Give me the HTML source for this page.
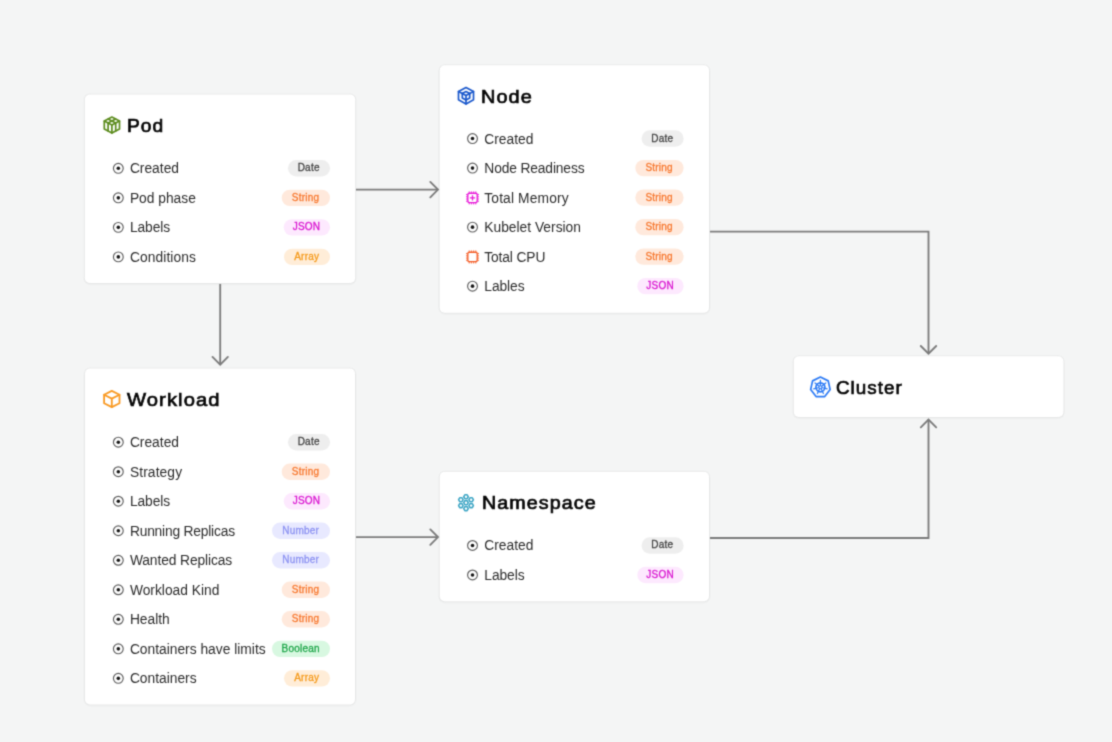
<!DOCTYPE html>
<html lang="en"><head><meta charset="utf-8"><title>Kubernetes data model</title>
<style>
html,body{margin:0;padding:0}
body{width:1112px;height:742px;background:#f4f5f5;position:relative;overflow:hidden;filter:url(#soft);font-family:"Liberation Sans",sans-serif;}
.card{position:absolute;box-sizing:border-box}
.title{position:absolute;z-index:2;margin:0;font-weight:normal;font-size:18.6px;line-height:24px;height:24px;color:#050505;-webkit-text-stroke:0.68px #050505;white-space:nowrap;transform-origin:0 50%}
.lbl{position:absolute;z-index:2;font-size:13.8px;line-height:18px;height:18px;color:#2c2c2c;white-space:nowrap}
.bdg{position:absolute;z-index:2;height:16px;font-size:10px;letter-spacing:0.22px;line-height:16px;text-align:center;white-space:nowrap;-webkit-text-stroke:0.3px currentColor}
svg.layer{position:absolute;left:0;top:0}
svg.icons{z-index:1}
</style></head><body>
<svg width="0" height="0" style="position:absolute" aria-hidden="true"><defs><filter id="soft" filterUnits="userSpaceOnUse" x="0" y="0" width="1112" height="742" color-interpolation-filters="sRGB"><feConvolveMatrix order="3" kernelMatrix="0.0289 0.1122 0.0289 0.1122 0.4356 0.1122 0.0289 0.1122 0.0289" edgeMode="duplicate" preserveAlpha="false"/></filter></defs></svg>

<svg class="layer wires" width="1112" height="742" viewBox="0 0 1112 742" fill="none" stroke="#7b7b7b" stroke-width="1.85" stroke-linecap="butt" stroke-linejoin="miter">
<path d="M356 189.6H437.99"/><path d="M430.29 197.3L437.99 189.6L430.29 181.9" stroke-linecap="round"/>
<path d="M220.2 284V364.59"/><path d="M212.5 356.89L220.2 364.59L227.9 356.89" stroke-linecap="round"/>
<path d="M356 537.1H437.99"/><path d="M430.29 544.8L437.99 537.1L430.29 529.4" stroke-linecap="round"/>
<path d="M710 231.6H928.5V353.69"/><path d="M920.8 345.99L928.5 353.69L936.2 345.99" stroke-linecap="round"/>
<path d="M710 537.95H928.5V419.61"/><path d="M936.2 427.31L928.5 419.61L920.8 427.31" stroke-linecap="round"/>
<rect x="83.35" y="93.65" width="273.35" height="191.75" rx="7" fill="#000" fill-opacity=".018" stroke="none"/>
<rect x="83.85" y="93.45" width="272.35" height="190.55" rx="6" fill="#000" fill-opacity=".038" stroke="none"/>
<rect x="84.85" y="94.45" width="270.35" height="188.55" rx="5" fill="#fff" stroke="none"/>
<rect x="438.2" y="64.4" width="272.3" height="250.7" rx="7" fill="#000" fill-opacity=".018" stroke="none"/>
<rect x="438.7" y="64.2" width="271.3" height="249.5" rx="6" fill="#000" fill-opacity=".038" stroke="none"/>
<rect x="439.7" y="65.2" width="269.3" height="247.5" rx="5" fill="#fff" stroke="none"/>
<rect x="83.55" y="367.8" width="272.95" height="339" rx="7" fill="#000" fill-opacity=".018" stroke="none"/>
<rect x="84.05" y="367.6" width="271.95" height="337.8" rx="6" fill="#000" fill-opacity=".038" stroke="none"/>
<rect x="85.05" y="368.6" width="269.95" height="335.8" rx="5" fill="#fff" stroke="none"/>
<rect x="438.25" y="471" width="272.25" height="132.7" rx="7" fill="#000" fill-opacity=".018" stroke="none"/>
<rect x="438.75" y="470.8" width="271.25" height="131.5" rx="6" fill="#000" fill-opacity=".038" stroke="none"/>
<rect x="439.75" y="471.8" width="269.25" height="129.5" rx="5" fill="#fff" stroke="none"/>
<rect x="792.3" y="355.4" width="272.6" height="63.9" rx="7" fill="#000" fill-opacity=".018" stroke="none"/>
<rect x="792.8" y="355.2" width="271.6" height="62.7" rx="6" fill="#000" fill-opacity=".038" stroke="none"/>
<rect x="793.8" y="356.2" width="269.6" height="60.7" rx="5" fill="#fff" stroke="none"/>
</svg>
<section class="card" style="left:85px;top:95px;width:270px;height:188px">
<h2 class="title" style="left:42.2px;top:19.2px;letter-spacing:1.0px;transform:scaleX(1.033)">Pod</h2>
<span class="lbl" style="left:44.9px;top:65.32px">Created</span>
<span class="bdg" style="left:202.7px;top:65.32px;width:42px;color:#454545">Date</span>
<span class="lbl" style="left:44.9px;top:94.84px">Pod phase</span>
<span class="bdg" style="left:196.4px;top:94.84px;width:48.3px;color:#f7782f">String</span>
<span class="lbl" style="left:44.9px;top:124.36px;letter-spacing:-0.08px">Labels</span>
<span class="bdg" style="left:198.4px;top:124.36px;width:46.3px;color:#d916d0">JSON</span>
<span class="lbl" style="left:44.9px;top:153.88px;letter-spacing:0.09px">Conditions</span>
<span class="bdg" style="left:198.7px;top:153.88px;width:46px;color:#f59a1b">Array</span>
</section>
<section class="card" style="left:440px;top:65px;width:269px;height:248px">
<h2 class="title" style="left:41.3px;top:19.5px;letter-spacing:1.0px;transform:scaleX(1.07)">Node</h2>
<span class="lbl" style="left:44.3px;top:65.57px">Created</span>
<span class="bdg" style="left:201.3px;top:65.57px;width:42px;color:#454545">Date</span>
<span class="lbl" style="left:44.3px;top:95.09px;letter-spacing:-0.135px">Node Readiness</span>
<span class="bdg" style="left:195px;top:95.09px;width:48.3px;color:#f7782f">String</span>
<span class="lbl" style="left:44.3px;top:124.61px;letter-spacing:0.14px">Total Memory</span>
<span class="bdg" style="left:195px;top:124.61px;width:48.3px;color:#f7782f">String</span>
<span class="lbl" style="left:44.3px;top:154.13px">Kubelet Version</span>
<span class="bdg" style="left:195px;top:154.13px;width:48.3px;color:#f7782f">String</span>
<span class="lbl" style="left:44.3px;top:183.65px;letter-spacing:-0.13px">Total CPU</span>
<span class="bdg" style="left:195px;top:183.65px;width:48.3px;color:#f7782f">String</span>
<span class="lbl" style="left:44.3px;top:213.17px;letter-spacing:-0.08px">Lables</span>
<span class="bdg" style="left:197px;top:213.17px;width:46.3px;color:#d916d0">JSON</span>
</section>
<section class="card" style="left:85px;top:369px;width:270px;height:335px">
<h2 class="title" style="left:42.4px;top:18.8px;letter-spacing:1.0px;transform:scaleX(1.086)">Workload</h2>
<span class="lbl" style="left:44.9px;top:65.19px">Created</span>
<span class="bdg" style="left:202.7px;top:65.19px;width:42px;color:#454545">Date</span>
<span class="lbl" style="left:44.9px;top:94.71px;letter-spacing:0.11px">Strategy</span>
<span class="bdg" style="left:196.4px;top:94.71px;width:48.3px;color:#f7782f">String</span>
<span class="lbl" style="left:44.9px;top:124.23px;letter-spacing:-0.08px">Labels</span>
<span class="bdg" style="left:198.4px;top:124.23px;width:46.3px;color:#d916d0">JSON</span>
<span class="lbl" style="left:44.9px;top:153.75px;letter-spacing:-0.2px">Running Replicas</span>
<span class="bdg" style="left:186.7px;top:153.75px;width:58px;color:#8d93f2">Number</span>
<span class="lbl" style="left:44.9px;top:183.27px;letter-spacing:-0.1px">Wanted Replicas</span>
<span class="bdg" style="left:186.7px;top:183.27px;width:58px;color:#8d93f2">Number</span>
<span class="lbl" style="left:44.9px;top:212.79px">Workload Kind</span>
<span class="bdg" style="left:196.4px;top:212.79px;width:48.3px;color:#f7782f">String</span>
<span class="lbl" style="left:44.9px;top:242.31px">Health</span>
<span class="bdg" style="left:196.4px;top:242.31px;width:48.3px;color:#f7782f">String</span>
<span class="lbl" style="left:44.9px;top:271.83px">Containers have limits</span>
<span class="bdg" style="left:186.7px;top:271.83px;width:58px;color:#1fa64a">Boolean</span>
<span class="lbl" style="left:44.9px;top:301.35px">Containers</span>
<span class="bdg" style="left:198.7px;top:301.35px;width:46px;color:#f59a1b">Array</span>
</section>
<section class="card" style="left:440px;top:472px;width:269px;height:129px">
<h2 class="title" style="left:41.6px;top:19.3px;letter-spacing:1.0px;transform:scaleX(1.06)">Namespace</h2>
<span class="lbl" style="left:44.3px;top:65.46px">Created</span>
<span class="bdg" style="left:201.3px;top:65.46px;width:42px;color:#454545">Date</span>
<span class="lbl" style="left:44.3px;top:94.98px;letter-spacing:-0.08px">Labels</span>
<span class="bdg" style="left:197px;top:94.98px;width:46.3px;color:#d916d0">JSON</span>
</section>
<section class="card" style="left:794px;top:356px;width:269px;height:61px">
<h2 class="title" style="left:41.6px;top:19.6px;letter-spacing:1.0px;transform:scaleX(1.0125)">Cluster</h2>
</section>
<svg class="layer icons" width="1112" height="742" viewBox="0 0 1112 742">
<g transform="translate(101.9 115.1)"><g fill="none" stroke="#5c8c1e" stroke-width="1.7" stroke-linejoin="round" stroke-linecap="round"><path d="M10 2L17.6 6V14L10 18L2.4 14V6Z"/><path d="M2.4 6L10 10L17.6 6"/><path d="M10 10V18"/><path d="M6.2 4L13.8 8V16"/><path d="M13.8 4L6.2 8V16"/></g></g>
<circle cx="118.32" cy="168.32" r="4.9" fill="none" stroke="#5e5e5e" stroke-width="1.15"/><circle cx="118.32" cy="168.32" r="1.8" fill="#161616"/>
<rect x="288" y="160.12" width="42" height="16.4" rx="8.2" fill="#eeeeee"/>
<circle cx="118.32" cy="197.84" r="4.9" fill="none" stroke="#5e5e5e" stroke-width="1.15"/><circle cx="118.32" cy="197.84" r="1.8" fill="#161616"/>
<rect x="281.7" y="189.64" width="48.3" height="16.4" rx="8.2" fill="#ffe9dc"/>
<circle cx="118.32" cy="227.36" r="4.9" fill="none" stroke="#5e5e5e" stroke-width="1.15"/><circle cx="118.32" cy="227.36" r="1.8" fill="#161616"/>
<rect x="283.7" y="219.16" width="46.3" height="16.4" rx="8.2" fill="#fde9fe"/>
<circle cx="118.32" cy="256.88" r="4.9" fill="none" stroke="#5e5e5e" stroke-width="1.15"/><circle cx="118.32" cy="256.88" r="1.8" fill="#161616"/>
<rect x="284" y="248.68" width="46" height="16.4" rx="8.2" fill="#ffedd8"/>
<g transform="translate(456 85.7)"><g fill="none" stroke="#1a58cc" stroke-width="1.7" stroke-linejoin="round" stroke-linecap="round"><path d="M10 1.8L17.5 5.9V14.1L10 18.2L2.5 14.1V5.9Z"/><path d="M10 5.9L13.7 7.9V12.3L10 14.4L6.3 12.3V7.9Z"/><path d="M6.3 7.9L10 9.9L13.7 7.9M10 9.9V18.2"/><path d="M2.5 5.9L6.3 7.9M17.5 5.9L13.7 7.9"/></g></g>
<circle cx="472.51" cy="138.57" r="4.9" fill="none" stroke="#5e5e5e" stroke-width="1.15"/><circle cx="472.51" cy="138.57" r="1.8" fill="#161616"/>
<rect x="641.6" y="130.37" width="42" height="16.4" rx="8.2" fill="#eeeeee"/>
<circle cx="472.51" cy="168.09" r="4.9" fill="none" stroke="#5e5e5e" stroke-width="1.15"/><circle cx="472.51" cy="168.09" r="1.8" fill="#161616"/>
<rect x="635.3" y="159.89" width="48.3" height="16.4" rx="8.2" fill="#ffe9dc"/>
<g transform="translate(465.51 190.91)"><g fill="none" stroke="#e81ad8"><rect x="2.3" y="2.3" width="9.4" height="9.4" rx="1.5" stroke-width="1.35"/><path d="M3.7 0.5V2M3.7 12V13.5M0.5 3.7H2M12 3.7H13.5M5.9 0.5V2M5.9 12V13.5M0.5 5.9H2M12 5.9H13.5M8.1 0.5V2M8.1 12V13.5M0.5 8.1H2M12 8.1H13.5M10.3 0.5V2M10.3 12V13.5M0.5 10.3H2M12 10.3H13.5" stroke-width="0.95"/><path d="M7 4.4V9.6M4.4 7H9.6" stroke-width="1.3"/></g></g>
<rect x="635.3" y="189.41" width="48.3" height="16.4" rx="8.2" fill="#ffe9dc"/>
<circle cx="472.51" cy="227.13" r="4.9" fill="none" stroke="#5e5e5e" stroke-width="1.15"/><circle cx="472.51" cy="227.13" r="1.8" fill="#161616"/>
<rect x="635.3" y="218.93" width="48.3" height="16.4" rx="8.2" fill="#ffe9dc"/>
<g transform="translate(465.51 249.95)"><g fill="none" stroke="#f4602b"><rect x="2.3" y="2.3" width="9.4" height="9.4" rx="1.5" stroke-width="1.35"/><path d="M3.7 0.5V2M3.7 12V13.5M0.5 3.7H2M12 3.7H13.5M5.9 0.5V2M5.9 12V13.5M0.5 5.9H2M12 5.9H13.5M8.1 0.5V2M8.1 12V13.5M0.5 8.1H2M12 8.1H13.5M10.3 0.5V2M10.3 12V13.5M0.5 10.3H2M12 10.3H13.5" stroke-width="0.95"/></g></g>
<rect x="635.3" y="248.45" width="48.3" height="16.4" rx="8.2" fill="#ffe9dc"/>
<circle cx="472.51" cy="286.17" r="4.9" fill="none" stroke="#5e5e5e" stroke-width="1.15"/><circle cx="472.51" cy="286.17" r="1.8" fill="#161616"/>
<rect x="637.3" y="277.97" width="46.3" height="16.4" rx="8.2" fill="#fde9fe"/>
<g transform="translate(101.8 389)"><g fill="none" stroke="#f99a24" stroke-width="1.8" stroke-linejoin="round" stroke-linecap="round"><path d="M10 1.9L17.7 5.8V14.2L10 18.1L2.3 14.2V5.8Z"/><path d="M2.3 5.8L10 9.6L17.7 5.8M10 9.6V18.1"/></g></g>
<circle cx="118.32" cy="442.19" r="4.9" fill="none" stroke="#5e5e5e" stroke-width="1.15"/><circle cx="118.32" cy="442.19" r="1.8" fill="#161616"/>
<rect x="288" y="433.99" width="42" height="16.4" rx="8.2" fill="#eeeeee"/>
<circle cx="118.32" cy="471.71" r="4.9" fill="none" stroke="#5e5e5e" stroke-width="1.15"/><circle cx="118.32" cy="471.71" r="1.8" fill="#161616"/>
<rect x="281.7" y="463.51" width="48.3" height="16.4" rx="8.2" fill="#ffe9dc"/>
<circle cx="118.32" cy="501.23" r="4.9" fill="none" stroke="#5e5e5e" stroke-width="1.15"/><circle cx="118.32" cy="501.23" r="1.8" fill="#161616"/>
<rect x="283.7" y="493.03" width="46.3" height="16.4" rx="8.2" fill="#fde9fe"/>
<circle cx="118.32" cy="530.75" r="4.9" fill="none" stroke="#5e5e5e" stroke-width="1.15"/><circle cx="118.32" cy="530.75" r="1.8" fill="#161616"/>
<rect x="272" y="522.55" width="58" height="16.4" rx="8.2" fill="#e8e9ff"/>
<circle cx="118.32" cy="560.27" r="4.9" fill="none" stroke="#5e5e5e" stroke-width="1.15"/><circle cx="118.32" cy="560.27" r="1.8" fill="#161616"/>
<rect x="272" y="552.07" width="58" height="16.4" rx="8.2" fill="#e8e9ff"/>
<circle cx="118.32" cy="589.79" r="4.9" fill="none" stroke="#5e5e5e" stroke-width="1.15"/><circle cx="118.32" cy="589.79" r="1.8" fill="#161616"/>
<rect x="281.7" y="581.59" width="48.3" height="16.4" rx="8.2" fill="#ffe9dc"/>
<circle cx="118.32" cy="619.31" r="4.9" fill="none" stroke="#5e5e5e" stroke-width="1.15"/><circle cx="118.32" cy="619.31" r="1.8" fill="#161616"/>
<rect x="281.7" y="611.11" width="48.3" height="16.4" rx="8.2" fill="#ffe9dc"/>
<circle cx="118.32" cy="648.83" r="4.9" fill="none" stroke="#5e5e5e" stroke-width="1.15"/><circle cx="118.32" cy="648.83" r="1.8" fill="#161616"/>
<rect x="272" y="640.63" width="58" height="16.4" rx="8.2" fill="#d8f8e1"/>
<circle cx="118.32" cy="678.35" r="4.9" fill="none" stroke="#5e5e5e" stroke-width="1.15"/><circle cx="118.32" cy="678.35" r="1.8" fill="#161616"/>
<rect x="284" y="670.15" width="46" height="16.4" rx="8.2" fill="#ffedd8"/>
<g transform="translate(456 492.7)"><g fill="none" stroke="#3ea6c5" stroke-width="1.55" stroke-linejoin="round"><polygon points="12.25,10.00 11.12,11.95 8.88,11.95 7.75,10.00 8.88,8.05 11.12,8.05"/><polygon points="12.25,4.05 11.12,6.00 8.88,6.00 7.75,4.05 8.88,2.10 11.12,2.10"/><polygon points="17.40,7.03 16.28,8.97 14.03,8.97 12.90,7.03 14.03,5.08 16.28,5.08"/><polygon points="17.40,12.97 16.28,14.92 14.03,14.92 12.90,12.97 14.03,11.03 16.28,11.03"/><polygon points="12.25,15.95 11.12,17.90 8.88,17.90 7.75,15.95 8.88,14.00 11.12,14.00"/><polygon points="7.10,12.97 5.97,14.92 3.72,14.92 2.60,12.97 3.72,11.03 5.97,11.03"/><polygon points="7.10,7.02 5.97,8.97 3.72,8.97 2.60,7.02 3.72,5.08 5.97,5.08"/></g></g>
<circle cx="472.51" cy="545.46" r="4.9" fill="none" stroke="#5e5e5e" stroke-width="1.15"/><circle cx="472.51" cy="545.46" r="1.8" fill="#161616"/>
<rect x="641.6" y="537.26" width="42" height="16.4" rx="8.2" fill="#eeeeee"/>
<circle cx="472.51" cy="574.98" r="4.9" fill="none" stroke="#5e5e5e" stroke-width="1.15"/><circle cx="472.51" cy="574.98" r="1.8" fill="#161616"/>
<rect x="637.3" y="566.78" width="46.3" height="16.4" rx="8.2" fill="#fde9fe"/>
<g transform="translate(807.4 374.3)"><g fill="none" stroke="#2d7bf5" stroke-linejoin="round" stroke-linecap="round"><polygon points="13.00,2.70 20.82,6.58 22.75,15.29 17.34,22.28 8.66,22.28 3.25,15.29 5.18,6.58" stroke-width="1.7"/><circle cx="13" cy="13" r="4.5" stroke-width="1.7"/><circle cx="13" cy="13" r="1.5" stroke-width="1.1"/><path d="M13.00 11.00L13.00 6.10M14.56 11.75L18.39 8.70M14.95 13.45L19.73 14.54M13.87 14.80L15.99 19.22M12.13 14.80L10.01 19.22M11.05 13.45L6.27 14.54M11.44 11.75L7.61 8.70" stroke-width="1.25"/></g></g>
</svg>
</body></html>
